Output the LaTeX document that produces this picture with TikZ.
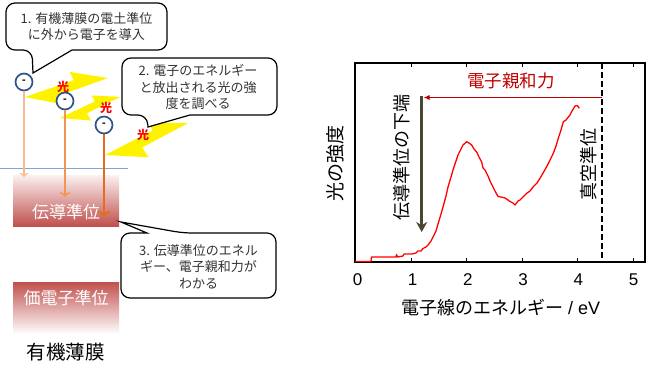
\documentclass[tikz,border=0pt]{standalone}
\usepackage{fontspec}
\setmainfont{Liberation Sans}
\newfontfamily\jp{Noto Sans CJK JP}
\usepackage{tikz}
\usetikzlibrary{arrows, arrows.meta, positioning}
\usepackage{xcolor}
\definecolor{levred}{HTML}{C0504D}
\definecolor{ering}{HTML}{2F5486}
\definecolor{arrA}{HTML}{F7B98B}
\definecolor{arrB}{HTML}{F09555}
\definecolor{arrC}{HTML}{E46C1E}
\definecolor{eaff}{HTML}{C00000}
\definecolor{edgeol}{HTML}{4A4630}
\definecolor{bluelvl}{HTML}{7EA6D8}

\begin{document}
\begin{tikzpicture}[x=1pt,y=-1pt]
    \tikzstyle{bubble}=[draw=black,line width=1.2pt,fill=white]
    \tikzstyle{calltext}=[align=center,text=black!80,font=\jp\fontsize{13}{16.5}\selectfont]
    \tikzstyle{electron}=[shape=circle,draw=ering,line width=1.7pt,fill=white,minimum size=17pt,inner sep=0pt,font=\bfseries\fontsize{11}{11}\selectfont]
    \tikzstyle{bolt}=[fill=yellow]
    \tikzstyle{hikari}=[text=red,font=\jp\bfseries\fontsize{12}{12}\selectfont]
    \tikzstyle{lvtext}=[text=white,font=\jp\fontsize{17}{17}\selectfont]
    \tikzstyle{ticklabel}=[font=\fontsize{17}{17}\selectfont]
    \tikzstyle{axislabel}=[font=\jp\fontsize{18}{18}\selectfont]

    \useasboundingbox (0,0) rectangle (650,365);

    % energy levels of the film
    \shade[top color=levred!8, middle color=levred!85, bottom color=levred] (13,175) rectangle (119,226);
    \shade[top color=levred, middle color=levred!60, bottom color=white] (13,282) rectangle (119,334);
    \node[lvtext] (cb) at (66,212) {伝導準位};
    \node[lvtext] (vb) at (66,298) {価電子準位};
    \node[font=\jp\fontsize{19.5}{19.5}\selectfont] (film) at (66,352) {有機薄膜};
    \coordinate (vl) at (0,168);
    \coordinate (vr) at (128,168);
    \draw[bluelvl, line width=0.9pt] (vl) -- (vr);

    % light
    \foreach \bx/\by/\ang/\len in {25/97/12.9/85, 60/118/19.3/64, 105/155/21/89}
      \fill[bolt, shift={(\bx,\by)}, rotate=\ang, scale=\len]
        (0,0) -- (0.45,0.2) -- (0.42,0.07) -- (1,0) -- (0.58,-0.17) -- (0.60,-0.065) -- cycle;
    \node[hikari] (h1) at (63,87) {光};
    \node[hikari] (h2) at (106,108) {光};
    \node[hikari] (h3) at (143,135) {光};

    % electrons
    \node[electron] (e1) at (24,82) {-};
    \node[electron] (e2) at (65,101) {-};
    \node[electron] (e3) at (104,125) {-};
    \coordinate (e1end) at (24,177);
    \coordinate (e2end) at (65,197);
    \coordinate (e3end) at (104,217);
    \draw[->, arrA, line width=1.1pt] (e1) -- (e1end);
    \draw[->, arrB, line width=1.5pt] (e2) -- (e2end);
    \draw[->, arrC, line width=2pt] (e3) -- (e3end);

    % callouts
    \draw[bubble] (86,3) [rounded corners=9] -- (6,3) -- (6,50) -- (32,50) [sharp corners] -- (33,73) -- (72,50) [rounded corners=9] -- (167,50) -- (167,3) -- cycle;
    \node[calltext] (c1) at (86.5,26.5) {1. 有機薄膜の電土準位\\に外から電子を導入};
    \draw[bubble] (200,58) [rounded corners=9] -- (122,58) -- (122,115) -- (147,115) [sharp corners] -- (148,127) -- (190,115) [rounded corners=9] -- (277,115) -- (277,58) -- cycle;
    \node[calltext] (c2) at (198,87.5) {2. 電子のエネルギー\\と放出される光の強\\度を調べる};
    \draw[bubble] (200,298) [rounded corners=9] -- (276,298) -- (276,233) -- (183,233) [sharp corners] -- (121,222) -- (147,233) [rounded corners=9] -- (121,233) -- (121,298) -- cycle;
    \node[calltext] (c3) at (198.5,266.5) {3. 伝導準位のエネル\\ギー、電子親和力が\\わかる};

    % spectrum
    \draw[line width=1.2pt] (355,63) rectangle (645,262);
    \foreach \i in {1,...,5} {
      \draw[line width=1pt] (355.5+55.5*\i,262) -- ++(0,-4);
      \draw[line width=1pt] (355.5+55.5*\i,63) -- ++(0,4);
    }
    \foreach \i in {0,...,5}
      \node[ticklabel] (t\i) at (357.5+55.2*\i,280) {\i};
    \draw[red, line width=1.3pt, line join=round] plot coordinates {
      (355,261.5) (371,261.5) (371.5,257) (396,257) (396.5,254.5) (397.5,257) (403,256)
      (404,254) (412,254) (416,253) (418,251) (421,251) (423,248.5) (426,247) (428,245)
      (431,241) (433,237) (436,231) (438,224) (441,214) (443,207) (446,196) (448,187)
      (451,177) (453,170) (456,161) (458,155) (461,149) (463,145) (466.7,141.7)
      (469,143) (471.7,145) (474,149) (476.7,152) (479,157) (481.7,162) (483,168)
      (485,170) (488,176) (490,181) (493,187) (495,191) (498,196.5) (501,197) (505,198)
      (508,200) (510,201.5) (513,203) (515,205) (518,201) (520,200) (523,197)
      (526.7,193.3) (530,191) (533.3,186.7) (537,183) (540,178.3) (543,173) (546.7,166.7)
      (550,160) (553.3,153.3) (556,146) (558.3,138.3) (561,130) (563.3,121.7) (566,120)
      (570,115) (572,111) (575,106) (577.3,105.5) (579.3,108.3)};
    \coordinate (vactop) at (602,63);
    \coordinate (vacbot) at (602,262);
    \draw[line width=2.4pt, dash pattern=on 6pt off 3pt] (vactop) -- (vacbot);
    \coordinate (eastart) at (602,97.5);
    \coordinate (eaend) at (423.5,97.5);
    \draw[eaff, line width=1pt, -{Latex[length=6pt,width=5pt]}] (eastart) -- (eaend);
    \coordinate (cbtop) at (421.7,96);
    \coordinate (cbbot) at (421.7,232);
    \draw[edgeol, line width=2.6pt, -{Stealth[length=10pt,width=11pt]}] (cbtop) -- (cbbot);
    \node[axislabel, text=eaff, font=\jp\fontsize{17.5}{17.5}\selectfont] (ealabel) at (511,81) {電子親和力};
    \node[axislabel, rotate=90] (cblabel) at (402,157) {伝導準位の下端};
    \node[axislabel, rotate=90] (vaclabel) at (589,164.5) {真空準位};
    \node[axislabel, rotate=90, font=\jp\fontsize{19}{19}\selectfont] (ylabel) at (335,163) {光の強度};
    \node[axislabel] (xlabel) at (501,308) {電子線のエネルギー {\rmfamily / eV}};
\end{tikzpicture}
\end{document}
